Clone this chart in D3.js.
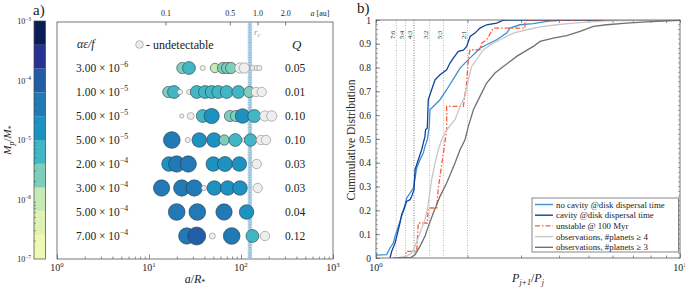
<!DOCTYPE html>
<html>
<head>
<meta charset="utf-8">
<script src="https://cdn.jsdelivr.net/npm/d3@7"></script>
<style>
body { margin: 0; background: #fff; }
text { font-family: "Liberation Serif", "DejaVu Serif", serif; fill: #222; }
</style>
</head>
<body>
<svg id="fig" width="685" height="288"></svg>
<script>
// ---- panel a data ----
const alphaMant = ["3.00", "1.00", "5.00", "5.00", "2.00", "3.00", "5.00", "7.00"];
const alphaExp = ["−6", "−5", "−5", "−5", "−4", "−4", "−4", "−4"];
const qValues = ["0.05", "0.01", "0.10", "0.10", "0.03", "0.03", "0.04", "0.12"];
// planets per row: [a/R*, log10(Mp/M*), detectable]
const row1 = [[23.0,-5.6,1],[27.2,-5.2,1],[38.4,-7,0],[52.2,-6.0,1],[63.7,-5.6,1],[70.5,-5.6,1],[77.9,-5.6,1],[97.5,-5.8,0],[108.6,-5.8,0],[134,-7,0],[148,-7,0],[158,-7,0]];
const row2 = [[16.2,-5.6,1],[18.7,-5.2,1],[21.7,-7,0],[27.4,-7,0],[33.0,-5.2,1],[40.6,-5.2,1],[48.0,-5.2,1],[56.6,-5.2,1],[69.9,-5.2,1],[93.5,-5.2,1],[123,-5.6,1],[145.6,-6.0,0],[168,-6.0,0]];
const row3 = [[22.7,-7.2,0],[28.4,-6.6,0],[38.4,-5.2,1],[48.0,-4.65,1],[75.9,-5.6,1],[88.2,-5.6,1],[104,-4.8,1],[139.6,-5.2,1],[182,-5.8,0],[216,-5.8,0]];
const row4 = [[17.7,-4.3,1],[26.4,-7,0],[35.2,-4.8,1],[50.9,-4.8,1],[65.8,-5.8,1],[86.7,-5.2,1],[110,-7,0],[127,-5.3,1],[165,-6.0,0],[187,-6.0,0]];
const row5 = [[16.5,-4.8,1],[20.0,-4.4,1],[26.7,-4.4,1],[50.0,-4.8,1],[67.0,-4.7,1],[95.9,-4.8,1],[148,-6.0,0]];
const row6 = [[13.7,-4.4,1],[22.7,-4.4,1],[31.1,-4.4,1],[39.6,-7,0],[51.3,-4.8,1],[71.7,-4.8,1],[97.5,-4.8,1],[152,-6.0,0]];
const row7 = [[20.0,-4.3,1],[33.5,-4.3,1],[65.4,-4.4,1],[115,-4.8,1]];
const row8 = [[25.7,-4.4,1],[33.0,-4.0,1],[48.8,-6.8,0],[79.2,-4.3,1],[133,-5.2,1],[182,-6.0,0]];
const planetRows = [row1, row2, row3, row4, row5, row6, row7, row8];
const cbarColors = ["#eff9b6", "#dff2b3", "#c7e9b4", "#7fcdbb", "#41b6c4", "#1d91c0", "#2179b6", "#225ea8", "#253494", "#081d58"];
const auTicks = [0.1, 0.5, 1.0, 2.0];
const auToRstar = 153;
const rcRstar = 125;

// ---- panel b data: [P_{j+1}/P_j, cumulative fraction] ----
const noCavity = [[1.0,0.012],[1.084,0.014],[1.112,0.042],[1.14,0.063],[1.155,0.091],[1.184,0.133],[1.214,0.175],[1.23,0.196],[1.261,0.252],[1.294,0.273],[1.327,0.294],[1.361,0.378],[1.395,0.413],[1.431,0.441],[1.449,0.469],[1.475,0.497],[1.486,0.525],[1.497,0.553],[1.505,0.623],[1.564,0.644],[1.624,0.665],[1.708,0.707],[1.819,0.763],[1.89,0.798],[1.987,0.826],[2.064,0.847],[2.144,0.868],[2.198,0.882],[2.312,0.896],[2.494,0.917],[2.691,0.945],[2.76,0.966],[2.976,0.98],[3.292,0.985],[3.642,0.994],[4.133,1.0],[10,1.0]];
const cavity = [[1.112,0],[1.126,0.028],[1.155,0.063],[1.17,0.091],[1.199,0.147],[1.214,0.182],[1.246,0.217],[1.261,0.238],[1.294,0.245],[1.31,0.259],[1.334,0.287],[1.344,0.371],[1.378,0.413],[1.413,0.455],[1.431,0.483],[1.449,0.511],[1.455,0.539],[1.475,0.546],[1.486,0.665],[1.524,0.707],[1.564,0.749],[1.624,0.77],[1.708,0.791],[1.752,0.819],[1.796,0.84],[1.866,0.868],[1.938,0.873],[1.987,0.889],[2.039,0.931],[2.117,0.945],[2.198,0.966],[2.312,0.98],[2.494,0.987],[2.623,0.999],[2.691,1.0],[10,1.0]];
const unstable = [[1.23,0],[1.255,0],[1.255,0.028],[1.361,0.028],[1.378,0.147],[1.475,0.147],[1.486,0.21],[1.584,0.21],[1.603,0.294],[1.67,0.45],[1.708,0.539],[1.708,0.637],[1.938,0.637],[1.987,0.735],[2.013,0.84],[2.039,0.875],[2.198,0.875],[2.226,0.903],[2.312,0.917],[2.432,0.966],[3.091,0.966],[3.091,1.0],[10,1.0]];
const obs4 = [[1.17,0],[1.261,0.007],[1.31,0.021],[1.344,0.049],[1.395,0.105],[1.449,0.161],[1.475,0.203],[1.497,0.259],[1.524,0.329],[1.564,0.399],[1.603,0.455],[1.644,0.497],[1.708,0.539],[1.819,0.581],[1.89,0.637],[1.962,0.679],[2.013,0.749],[2.064,0.805],[2.144,0.833],[2.254,0.875],[2.432,0.903],[2.558,0.917],[2.83,0.945],[3.131,0.959],[3.463,0.971],[3.929,0.98],[4.458,0.987],[5.057,0.992],[5.739,0.996],[7.387,0.999],[9.508,1.0],[10,1.0]];
const obs3 = [[1.14,0],[1.294,0],[1.344,0.014],[1.395,0.049],[1.449,0.091],[1.486,0.133],[1.544,0.189],[1.624,0.259],[1.708,0.315],[1.819,0.399],[1.89,0.455],[1.962,0.497],[2.013,0.553],[2.091,0.623],[2.198,0.679],[2.312,0.735],[2.463,0.777],[2.623,0.805],[2.76,0.826],[2.902,0.847],[3.091,0.868],[3.292,0.889],[3.463,0.91],[3.831,0.924],[4.239,0.934],[4.69,0.952],[5.187,0.973],[5.739,0.98],[6.677,0.987],[7.77,0.992],[9.508,0.997],[10,0.999]];
const resonances = [["7:6", 7/6], ["5:4", 5/4], ["4:3", 4/3], ["3:2", 3/2], ["5:3", 5/3], ["2:1", 2]];
const seriesNames = ["no cavity @disk dispersal time", "cavity @disk dispersal time", "unstable @ 100 Myr", "observations, #planets ≥ 4", "observations, #planets ≥ 3"];
const seriesData = [noCavity, cavity, unstable, obs4, obs3];
const seriesColors = ["#3d90d4", "#0d449a", "#ff5a3a", "#c8c8c8", "#707070"];

const svg = d3.select("#fig");

function sup(t, base, exp, size) {
  t.append("tspan").text(base);
  t.append("tspan").attr("dy", -size * 0.42).attr("font-size", size * 0.68).text(exp);
}

// ================= panel a =================
const A = {left: 57, right: 333, top: 22, bottom: 259};
const xA = d3.scaleLog().domain([1, 1000]).range([A.left, A.right]);
const yA = d3.scalePoint().domain(d3.range(8)).range([68, 236]);
const rA = d3.scaleLinear().domain([-7, -4]).range([2.6, 9]);
const cbY = d3.scaleLinear().domain([-7, -3]).range([259, 21]);
const colorM = d3.scaleQuantize().domain([-7, -3]).range(cbarColors);

// colorbar
const cb = svg.append("g");
cbarColors.forEach((c, i) => {
  cb.append("rect").attr("x", 34).attr("width", 11.5)
    .attr("y", cbY(-7 + 0.4 * (i + 1))).attr("height", cbY(-7 + 0.4 * i) - cbY(-7 + 0.4 * (i + 1)))
    .attr("fill", c);
});
cb.append("rect").attr("x", 34).attr("y", 21).attr("width", 11.5).attr("height", 238)
  .attr("fill", "none").attr("stroke", "#444").attr("stroke-width", 0.7);
d3.range(-7, -3).forEach(d => {
  d3.range(2, 10).forEach(k => {
    const y = cbY(d + Math.log10(k));
    cb.append("line").attr("x1", 34).attr("x2", 36).attr("y1", y).attr("y2", y)
      .attr("stroke", "#444").attr("stroke-width", 0.5);
  });
});
d3.range(-7, -2).forEach(d => {
  const t = cb.append("text").attr("x", 31).attr("y", cbY(d) + 3).attr("text-anchor", "end").attr("font-size", 8);
  sup(t, "10", "−" + (-d), 8);
});
const ml = cb.append("text").attr("transform", "translate(11,140) rotate(-90)").attr("text-anchor", "middle").attr("font-size", 11);
ml.append("tspan").attr("font-style", "italic").text("M");
ml.append("tspan").attr("font-size", 8).attr("dy", 2.5).attr("font-style", "italic").text("p");
ml.append("tspan").attr("dy", -2.5).text("/");
ml.append("tspan").attr("font-style", "italic").text("M");
ml.append("tspan").attr("font-size", 8).attr("dy", 2.5).text("*");

const gA = svg.append("g");
gA.append("rect").attr("x", A.left).attr("y", A.top).attr("width", A.right - A.left).attr("height", A.bottom - A.top)
  .attr("fill", "none").attr("stroke", "#555").attr("stroke-width", 0.8);
gA.append("text").attr("x", 33).attr("y", 15).attr("font-size", 15).text("a)");

// r_c band
gA.append("rect").attr("x", xA(rcRstar) - 2.2).attr("width", 4.4).attr("y", A.top).attr("height", A.bottom - A.top)
  .attr("fill", "#9ecae1").attr("opacity", 0.8);
gA.append("line").attr("x1", xA(rcRstar)).attr("x2", xA(rcRstar)).attr("y1", A.top).attr("y2", A.bottom)
  .attr("stroke", "#4a86b8").attr("stroke-width", 0.8).attr("stroke-dasharray", "1,1.5");
const rcT = gA.append("text").attr("x", xA(rcRstar) + 4).attr("y", 35).attr("font-size", 9).attr("font-style", "italic").attr("fill", "#7e9fc0");
rcT.append("tspan").attr("fill", "#7e9fc0").text("r");
rcT.append("tspan").attr("fill", "#7e9fc0").attr("font-size", 6.5).attr("dy", 2).text("c");

// bottom axis (ticks inward)
gA.append("g").attr("transform", `translate(0,${A.bottom})`)
  .call(d3.axisBottom(xA).tickSize(-3).tickFormat(""))
  .call(g => g.select(".domain").remove())
  .call(g => g.selectAll(".tick line").attr("stroke", "#444").attr("stroke-width", 0.6)
    .attr("y2", d => Number.isInteger(Math.log10(d)) ? -4.5 : -2.5));
[1, 10, 100, 1000].forEach((v, i) => {
  const t = gA.append("text").attr("x", xA(v)).attr("y", 271).attr("text-anchor", "middle").attr("font-size", 10);
  sup(t, "10", String(i), 10);
});
const axl = gA.append("text").attr("x", 195).attr("y", 283).attr("text-anchor", "middle").attr("font-size", 12);
axl.append("tspan").attr("font-style", "italic").text("a");
axl.append("tspan").text("/");
axl.append("tspan").attr("font-style", "italic").text("R");
axl.append("tspan").attr("font-size", 8).attr("dy", 2).text("*");

// top axis in au
auTicks.forEach(v => {
  const x = xA(v * auToRstar);
  gA.append("line").attr("x1", x).attr("x2", x).attr("y1", A.top).attr("y2", A.top + 3.5)
    .attr("stroke", "#444").attr("stroke-width", 0.7);
  gA.append("text").attr("x", x).attr("y", 16).attr("text-anchor", "middle").attr("font-size", 8).text(v.toFixed(1));
});
const au = gA.append("text").attr("x", 320).attr("y", 16).attr("text-anchor", "middle").attr("font-size", 8);
au.append("tspan").attr("font-style", "italic").text("a");
au.append("tspan").text(" [au]");

// header
gA.append("text").attr("x", 77).attr("y", 48).attr("font-size", 12).attr("font-style", "italic").text("αε/f");
gA.append("circle").attr("cx", 139.5).attr("cy", 44.5).attr("r", 3.8).attr("fill", "#eeeeee").attr("stroke", "#888").attr("stroke-width", 0.6);
gA.append("text").attr("x", 146).attr("y", 48.5).attr("font-size", 12).text("- undetectable");
gA.append("text").attr("x", 292).attr("y", 49).attr("font-size", 13).attr("font-style", "italic").text("Q");

// row labels and Q
planetRows.forEach((row, i) => {
  const y = yA(i);
  const t = gA.append("text").attr("x", 76).attr("y", y + 4).attr("font-size", 11.5);
  sup(t, alphaMant[i] + " × 10", alphaExp[i], 11.5);
  gA.append("text").attr("x", 285).attr("y", y + 4).attr("font-size", 11.5).text(qValues[i]);
  gA.append("g").selectAll("circle").data(row).join("circle")
    .attr("cx", d => xA(d[0])).attr("cy", y).attr("r", d => rA(d[1]))
    .attr("fill", d => d[2] ? colorM(d[1]) : "#eeeeee")
    .attr("stroke", d => d[2] ? "#2b3a48" : "#8a8a8a").attr("stroke-width", 0.6);
});

// ================= panel b =================
const B = {left: 376, right: 680, top: 20, bottom: 258};
const xB = d3.scaleLog().domain([1, 10]).range([B.left, B.right]);
const yB = d3.scaleLinear().domain([0, 1]).range([B.bottom, B.top]);
const gB = svg.append("g");
gB.append("text").attr("x", 357).attr("y", 13).attr("font-size", 15).text("b)");

svg.append("clipPath").attr("id", "clipB").append("rect")
  .attr("x", B.left).attr("y", B.top).attr("width", B.right - B.left).attr("height", B.bottom - B.top);

// resonance lines
resonances.forEach(([lab, v]) => {
  const x = xB(v);
  gB.append("line").attr("x1", x).attr("x2", x).attr("y1", B.top).attr("y2", B.bottom)
    .attr("stroke", lab === "4:3" ? "#555" : "#aaa").attr("stroke-width", 0.8).attr("stroke-dasharray", "1,1.5");
  gB.append("text").attr("transform", `translate(${x - 1.5},39) rotate(-90)`).attr("font-size", 6.5).text(lab);
});

// axes with inward ticks
gB.append("g").attr("transform", `translate(${B.left},0)`)
  .call(d3.axisLeft(yB).tickValues(d3.range(0, 1.001, 0.1)).tickSize(-4).tickPadding(5)
    .tickFormat(d => d < 1e-9 ? "0" : d > 0.999 ? "1" : d3.format(".1f")(d)))
  .call(g => g.select(".domain").remove())
  .attr("font-size", 9.5)
  .call(g => g.selectAll(".tick line").attr("stroke", "#444").attr("stroke-width", 0.6));
d3.range(0, 1.001, 0.02).forEach(v => {
  gB.append("line").attr("x1", B.left).attr("x2", B.left + 2).attr("y1", yB(v)).attr("y2", yB(v))
    .attr("stroke", "#555").attr("stroke-width", 0.5);
  gB.append("line").attr("x1", B.right).attr("x2", B.right - 2).attr("y1", yB(v)).attr("y2", yB(v))
    .attr("stroke", "#555").attr("stroke-width", 0.5);
});
gB.append("g").attr("transform", `translate(0,${B.bottom})`)
  .call(d3.axisBottom(xB).tickSize(-3).tickFormat(""))
  .call(g => g.select(".domain").remove())
  .call(g => g.selectAll(".tick line").attr("stroke", "#444").attr("stroke-width", 0.6)
    .attr("y2", d => (d === 1 || d === 10) ? -4.5 : -2.5));
gB.append("g").attr("transform", `translate(0,${B.top})`)
  .call(d3.axisTop(xB).tickSize(-3).tickFormat(""))
  .call(g => g.select(".domain").remove())
  .call(g => g.selectAll(".tick line").attr("stroke", "#444").attr("stroke-width", 0.6));
[1, 10].forEach((v, i) => {
  const t = gB.append("text").attr("x", xB(v)).attr("y", 271).attr("text-anchor", "middle").attr("font-size", 10);
  sup(t, "10", String(i), 10);
});
gB.append("text").attr("transform", "translate(355,140) rotate(-90)").attr("text-anchor", "middle")
  .attr("font-size", 11.5).text("Cummulative Distribution");
const pl = gB.append("text").attr("x", 528).attr("y", 282).attr("text-anchor", "middle").attr("font-size", 12).attr("font-style", "italic");
pl.append("tspan").text("P");
pl.append("tspan").attr("font-size", 8).attr("dy", 2.5).text("j+1");
pl.append("tspan").attr("dy", -2.5).attr("font-style", "normal").text("/");
pl.append("tspan").text("P");
pl.append("tspan").attr("font-size", 8).attr("dy", 2.5).text("j");

const line = d3.line().x(d => xB(d[0])).y(d => yB(d[1]));
const curves = gB.append("g").attr("clip-path", "url(#clipB)");
seriesData.forEach((s, i) => {
  curves.append("path").datum(s).attr("d", line).attr("fill", "none")
    .attr("stroke", seriesColors[i]).attr("stroke-width", 1.3)
    .attr("stroke-dasharray", i === 2 ? "5,2,1.5,2" : null);
});

gB.append("rect").attr("x", B.left).attr("y", B.top).attr("width", B.right - B.left).attr("height", B.bottom - B.top)
  .attr("fill", "none").attr("stroke", "#555").attr("stroke-width", 0.8);

// legend
const lg = gB.append("g");
lg.append("rect").attr("x", 532).attr("y", 198).attr("width", 146.5).attr("height", 54)
  .attr("fill", "#fff").attr("stroke", "#555").attr("stroke-width", 0.7);
seriesNames.forEach((n, i) => {
  const y = 204.5 + i * 10.7;
  lg.append("line").attr("x1", 535).attr("x2", 553).attr("y1", y).attr("y2", y)
    .attr("stroke", seriesColors[i]).attr("stroke-width", 1.4)
    .attr("stroke-dasharray", i === 2 ? "5,2,1.5,2" : null);
  lg.append("text").attr("x", 556).attr("y", y + 3).attr("font-size", 8.8).text(n);
});
</script>
</body>
</html>
